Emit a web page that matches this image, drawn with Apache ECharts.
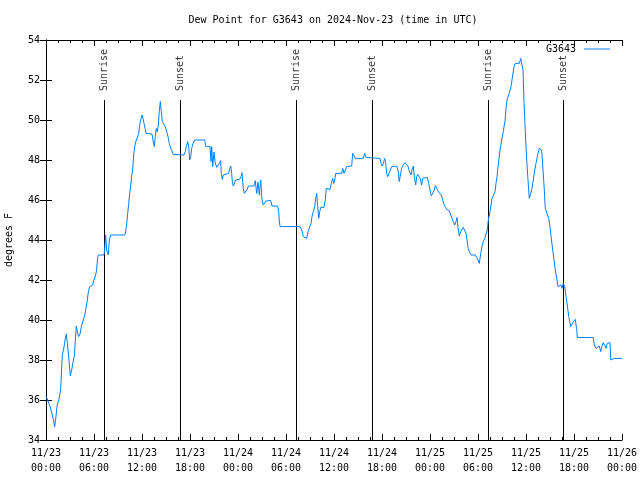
<!DOCTYPE html>
<html>
<head>
<meta charset="utf-8">
<script src="https://cdn.jsdelivr.net/npm/echarts@6/dist/echarts.min.js"></script>
<style>
html,body{margin:0;padding:0;background:#fff;}
#chart{width:640px;height:480px;}
</style>
</head>
<body>
<div id="chart"></div>
<script>
var hours = [0,0.25,0.5,0.75,0.94,1.08,1.2,1.4,1.6,1.83,1.96,2.04,2.25,2.42,2.54,2.67,2.83,3.04,3.21,3.38,3.54,3.67,3.79,3.92,4.08,4.25,4.46,4.67,4.88,5.0,5.17,5.29,5.46,5.79,6.0,6.21,6.33,6.42,6.54,7.25,7.33,7.46,7.58,7.79,7.92,8.08,9.83,9.96,10.09,10.21,10.34,10.46,10.59,10.71,10.84,10.96,11.09,11.21,11.41,11.59,11.71,11.84,12.0,12.13,12.25,12.38,12.5,13.25,13.41,13.54,13.66,13.79,13.91,14.04,14.16,14.29,14.41,14.54,14.75,14.91,15.09,15.25,15.41,15.59,15.75,15.91,16.09,17.25,17.41,17.54,17.71,17.84,17.96,18.09,18.21,18.38,18.59,19.84,19.88,20.0,20.5,20.63,20.71,20.84,21.0,21.13,21.34,21.54,21.66,21.84,21.91,22.04,22.16,22.34,22.84,22.91,23.09,23.21,23.29,23.41,23.59,23.71,23.84,24.25,24.38,24.5,24.66,24.79,25.0,25.16,25.29,26.0,26.16,26.34,26.5,26.66,26.84,27.0,27.16,27.34,27.5,27.66,28.09,28.25,28.96,29.09,29.16,29.25,31.75,31.96,32.16,32.38,32.59,32.75,33.0,33.13,33.25,33.41,33.59,33.71,33.84,33.96,34.09,34.21,34.34,34.75,34.91,35.04,35.16,35.5,35.66,35.84,35.96,36.09,36.21,36.96,37.09,37.25,37.41,37.59,38.21,38.34,38.5,38.66,39.66,39.84,40.0,40.16,41.75,41.88,42.04,42.16,42.34,42.46,42.59,42.71,42.91,43.04,43.21,43.84,44.0,44.16,44.29,44.46,44.66,44.88,45.09,45.25,45.41,45.63,45.75,45.91,46.04,46.21,46.34,46.46,46.66,46.79,46.96,47.09,47.21,47.66,47.84,48.0,48.16,48.41,48.54,48.66,48.84,49.04,49.25,49.41,49.59,49.75,49.91,50.09,50.41,50.59,50.75,50.91,51.09,51.25,51.38,51.5,51.66,51.84,52.0,52.16,52.41,52.5,52.63,52.75,52.91,53.13,53.66,53.84,54.0,54.16,54.34,54.5,54.66,54.84,55.0,55.16,55.29,55.5,55.63,55.75,55.91,56.13,56.25,56.38,56.5,56.63,56.75,56.96,57.16,57.38,57.5,57.63,57.79,58.0,58.16,58.34,58.5,58.66,59.16,59.34,59.5,59.63,59.75,59.91,60.09,60.25,60.41,60.59,60.75,60.91,61.09,61.25,61.41,61.66,61.96,62.16,62.29,62.41,62.66,62.84,63.0,63.16,63.34,63.5,63.66,63.84,64.0,64.16,64.38,64.5,64.66,64.84,65.0,65.16,65.34,65.59,65.84,66.0,66.16,66.34,66.41,66.54,68.41,68.54,68.75,68.91,69.16,69.34,69.5,69.66,69.88,70.0,70.16,70.34,70.5,70.59,70.75,71.0,72.0];
var dewPoint = [36.2,36.2,35.7,35.6,35.0,34.65,35.0,35.75,36.0,36.5,37.6,38.25,38.65,39.1,39.3,38.85,38.2,37.2,37.5,37.9,38.2,39.0,39.7,39.4,39.17,39.3,39.75,40.0,40.3,40.6,41.0,41.4,41.67,41.73,42.0,42.25,42.5,43.0,43.25,43.25,43.5,44.25,43.5,43.25,44.0,44.25,44.25,44.4,44.83,45.33,45.83,46.33,46.75,47.17,47.58,48.25,48.67,48.9,49.0,49.33,49.75,50.0,50.25,50.08,49.83,49.58,49.33,49.3,48.9,48.67,49.17,49.58,49.4,49.75,50.42,50.92,50.42,49.92,49.85,49.67,49.42,49.17,48.83,48.58,48.45,48.28,48.25,48.25,48.42,48.67,48.92,48.67,48.0,48.17,48.58,48.83,49.0,49.0,48.87,48.67,48.67,47.92,48.67,47.67,48.4,47.9,47.63,47.63,47.83,47.97,47.33,47.03,47.25,47.33,47.33,47.5,47.7,47.33,46.92,46.7,46.7,47.0,47.05,47.05,47.17,47.37,46.58,46.33,46.33,46.53,46.7,46.7,46.97,46.33,46.9,46.25,47.0,46.0,45.75,45.75,45.95,45.98,45.98,45.7,45.7,45.42,45.0,44.67,44.67,44.5,44.17,44.08,44.08,44.42,44.45,44.83,45.17,45.42,45.67,46.08,46.33,45.67,45.08,45.42,45.63,45.63,46.0,46.58,46.53,46.53,46.83,47.08,46.83,47.0,47.33,47.33,47.58,47.33,47.4,47.67,47.7,48.33,48.25,48.08,48.08,48.33,48.13,48.08,48.08,47.83,47.7,47.83,48.08,47.83,47.33,47.17,47.17,47.5,47.67,47.7,47.5,46.92,47.25,47.58,47.75,47.87,47.87,47.7,47.45,47.25,47.5,47.7,47.17,46.75,47.17,47.28,47.28,47.08,46.75,47.08,47.13,47.13,46.83,46.5,46.2,46.2,46.5,46.72,46.58,46.42,46.37,46.25,46.0,45.78,45.67,45.53,45.47,45.25,45.08,44.92,44.75,44.92,45.13,44.63,44.2,44.42,44.5,44.63,44.63,44.33,44.0,43.63,43.42,43.25,43.25,43.17,43.0,42.83,43.33,43.67,43.92,44.08,44.17,44.5,45.0,45.42,45.75,46.08,46.2,46.42,46.83,47.17,47.67,48.08,48.47,49.0,49.42,49.97,50.58,51.0,51.2,51.47,51.75,52.25,52.67,52.83,52.83,53.08,53.0,52.5,50.83,49.42,48.0,47.0,46.08,46.33,46.58,47.0,47.5,47.83,48.17,48.58,48.5,48.5,46.5,45.58,45.5,45.08,44.67,44.08,43.5,43.0,42.5,42.08,41.67,41.58,41.75,41.58,41.83,41.67,41.17,40.75,40.17,39.67,39.87,39.83,40.03,39.53,39.13,39.12,39.12,38.75,38.58,38.67,38.7,38.42,38.7,38.87,38.7,38.58,38.83,38.75,38.87,38.0,37.95,38.08,38.08];
var xTickLabels = ['11/23\n00:00','11/23\n06:00','11/23\n12:00','11/23\n18:00','11/24\n00:00','11/24\n06:00','11/24\n12:00','11/24\n18:00','11/25\n00:00','11/25\n06:00','11/25\n12:00','11/25\n18:00','11/26\n00:00'];
var sunHours = [7.25,16.75,31.25,40.75,55.25,64.625];
var sunLabels = ['Sunrise','Sunset','Sunrise','Sunset','Sunrise','Sunset'];
var seriesName = 'G3643';
var titleText = 'Dew Point for G3643 on 2024-Nov-23 (time in UTC)';
var yAxisName = 'degrees F';

var FONT = 'DejaVu Sans Mono';
var chart = echarts.init(document.getElementById('chart'), null, {renderer:'canvas'});
var lineData = hours.map(function(h,i){return [h, dewPoint[i]];});
var sunLineData = sunHours.map(function(h){return [{coord:[h,51]},{coord:[h,34]}];});
var sunLabelData = sunHours.map(function(h){return [h,51.4];});

var axisCommon = {
  axisLine:{show:true,lineStyle:{color:'#000',width:1}},
  splitLine:{show:false}
};
chart.setOption({
  animation:false,
  backgroundColor:'#fff',
  title:{text:titleText,left:328,top:10,textAlign:'center',textStyle:{fontFamily:FONT,fontSize:10,fontWeight:'normal',color:'#000'}},
  legend:{data:[seriesName],right:25,top:39,align:'right',icon:'rect',itemWidth:26,itemHeight:1,
    textStyle:{fontFamily:FONT,fontSize:10,color:'#000',padding:[0,3,0,0]}},
  grid:{left:46,right:18,top:40,bottom:40,containLabel:false,outerBoundsMode:'none'},
  xAxis:[
    Object.assign({type:'value',min:0,max:72,interval:6,position:'bottom',
      axisTick:{show:true,inside:true,length:6,lineStyle:{color:'#000'}},
      minorTick:{show:true,splitNumber:4,length:3,lineStyle:{color:'#000'}},
      axisLabel:{fontFamily:FONT,fontSize:10,color:'#000',lineHeight:15,margin:6,
        formatter:function(v){return xTickLabels[Math.round(v/6)];}}
    },axisCommon),
    Object.assign({type:'value',min:0,max:72,interval:6,position:'top',
      axisTick:{show:true,inside:true,length:6,lineStyle:{color:'#000'}},
      minorTick:{show:true,splitNumber:4,length:3,lineStyle:{color:'#000'}},
      axisLabel:{show:false}
    },axisCommon)
  ],
  yAxis:[
    Object.assign({type:'value',min:34,max:54,interval:2,position:'left',
      name:yAxisName,nameLocation:'middle',nameGap:32,nameRotate:90,
      nameTextStyle:{fontFamily:FONT,fontSize:10,color:'#000'},
      axisTick:{show:true,inside:true,length:6,lineStyle:{color:'#000'}},
      axisLabel:{fontFamily:FONT,fontSize:10,color:'#000',margin:6}
    },axisCommon),
    Object.assign({type:'value',min:34,max:54,interval:2,position:'right',
      axisTick:{show:true,inside:true,length:6,lineStyle:{color:'#000'}},
      axisLabel:{show:false}
    },axisCommon)
  ],
  series:[
    {name:'sun',type:'line',data:[],xAxisIndex:0,yAxisIndex:0,silent:true,
      markLine:{silent:true,symbol:['none','none'],label:{show:false},
        lineStyle:{color:'#000',width:1,type:'solid'},data:sunLineData}},
    {name:'sunLabels',type:'scatter',data:sunLabelData,symbolSize:0,silent:true,
      label:{show:true,position:'inside',rotate:90,align:'left',verticalAlign:'middle',offset:[1,0],
        fontFamily:FONT,fontSize:10,color:'#000',
        formatter:function(p){return sunLabels[p.dataIndex];}}},
    {name:seriesName,type:'line',data:lineData,showSymbol:false,symbol:'none',
      lineStyle:{color:'#0080ff',width:1},itemStyle:{color:'#0080ff'},z:5}
  ]
});
</script>
</body>
</html>
